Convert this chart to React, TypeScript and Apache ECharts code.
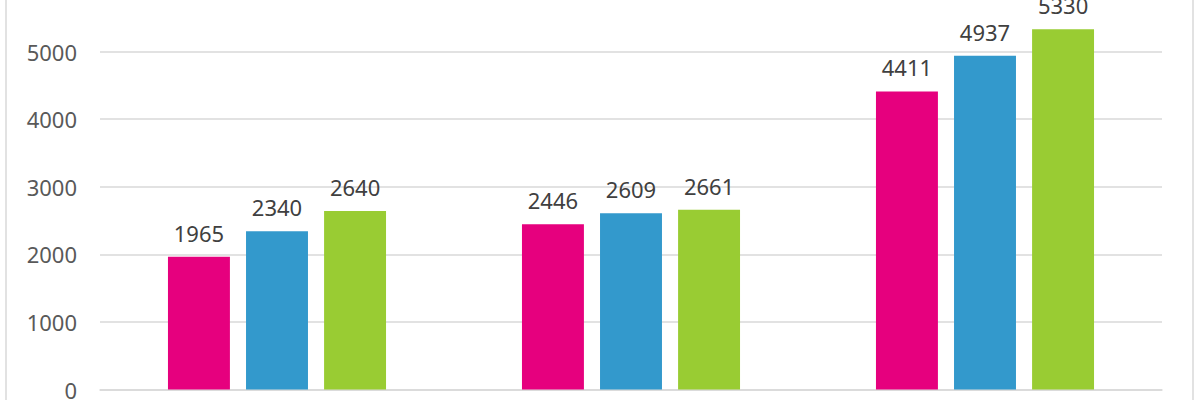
import React, { useEffect, useRef } from "react";
import * as echarts from "echarts";

const categories = ["Group 1", "Group 2", "Group 3"];
const seriesNames = ["Series 1", "Series 2", "Series 3"];
const series1 = [1965, 2446, 4411];
const series2 = [2340, 2609, 4937];
const series3 = [2640, 2661, 5330];
const colors = ["#E6007E", "#3399CC", "#99CC33"];
const yTicks = [0, 1000, 2000, 3000, 4000, 5000, 6000];

export default function App() {
  const ref = useRef<HTMLDivElement>(null);
  useEffect(() => {
    if (!ref.current) return;
    const chart = echarts.init(ref.current, null, { renderer: "svg" });
    const font = "'Noto Sans', 'Open Sans', sans-serif";
    const values = [series1, series2, series3];
    chart.setOption({
      animation: false,
      backgroundColor: "#ffffff",
      grid: {
        left: 100,
        right: 38,
        top: 0,
        bottom: 10.5,
        containLabel: false,
        outerBoundsMode: "none",
      },
      xAxis: {
        type: "category",
        data: categories,
        axisLine: { show: true, lineStyle: { color: "#d9d9d9", width: 1.5 } },
        axisTick: { show: false },
        axisLabel: { show: false },
      },
      yAxis: {
        type: "value",
        min: yTicks[0],
        max: yTicks[yTicks.length - 1],
        interval: 1000,
        axisLine: { show: false },
        axisTick: { show: false },
        splitLine: { lineStyle: { color: "#d9d9d9", width: 1.5 } },
        axisLabel: {
          color: "#595959",
          fontSize: 22,
          fontFamily: font,
          margin: 23,
          formatter: (v: number) => String(v),
        },
      },
      graphic: [
        { type: "line", shape: { x1: 6, y1: 0, x2: 6, y2: 416 }, style: { stroke: "#d9d9d9", lineWidth: 1.5 } },
        { type: "line", shape: { x1: 1193, y1: 0, x2: 1193, y2: 416 }, style: { stroke: "#d9d9d9", lineWidth: 1.5 } },
      ],
      series: values.map((v, i) => ({
        name: seriesNames[i],
        type: "bar",
        data: v,
        barWidth: "17.5%",
        barGap: "26%",
        itemStyle: { color: colors[i] },
        label: {
          show: true,
          position: "top",
          distance: 13,
          color: "#404040",
          fontSize: 22,
          fontFamily: font,
        },
      })),
    });
    return () => chart.dispose();
  }, []);
  return (
    <div
      ref={ref}
      style={{ position: "absolute", left: 0, top: -16, width: 1200, height: 416 }}
    />
  );
}
